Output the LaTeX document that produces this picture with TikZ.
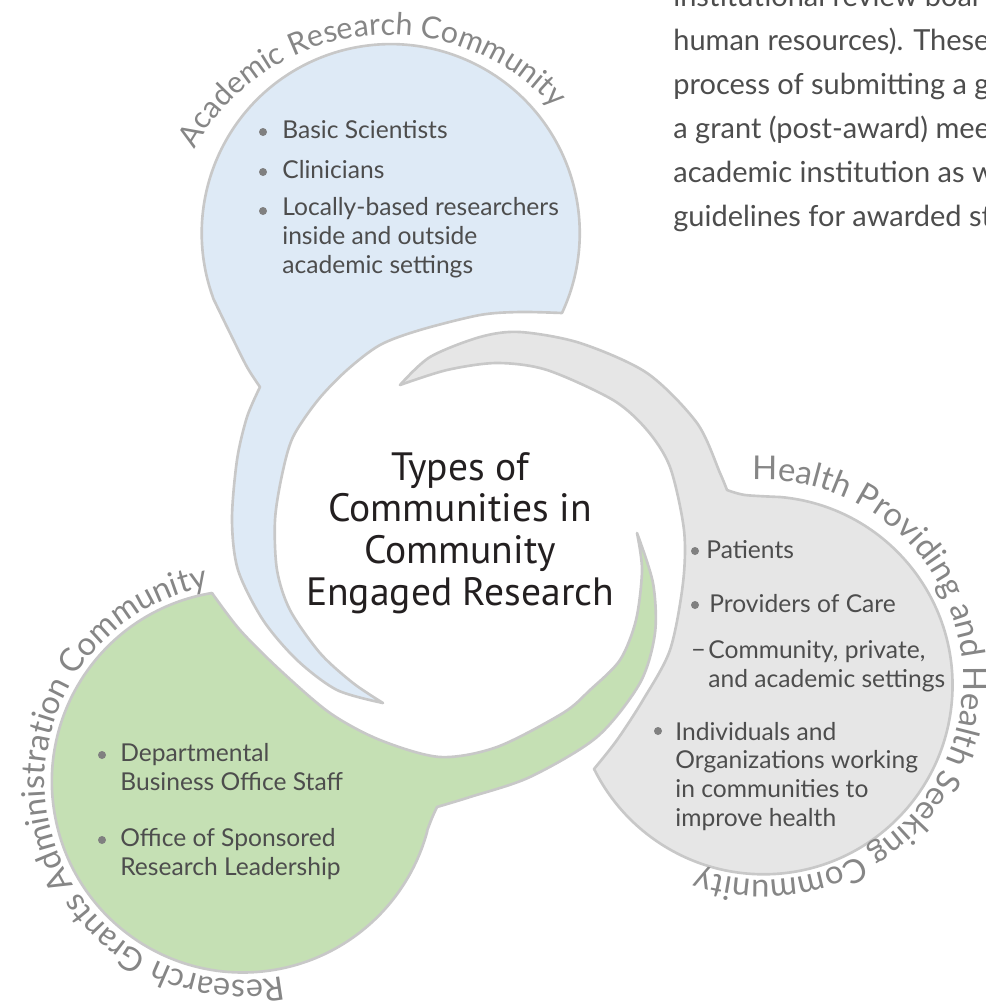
\documentclass[tikz,border=0pt]{standalone}
\usepackage{fontspec}
\setmainfont{Lato}
\newfontfamily\titlefont{PT Sans}
\usetikzlibrary{decorations.text}

\definecolor{blueFill}{HTML}{DEEAF6}
\definecolor{greyFill}{HTML}{E6E6E6}
\definecolor{greenFill}{HTML}{C5E0B4}
\definecolor{edgeGrey}{HTML}{C8C8C8}
\definecolor{textGrey}{HTML}{4D4D4D}
\definecolor{labelGrey}{HTML}{868686}
\definecolor{dotGrey}{HTML}{808080}
\definecolor{titleBlack}{HTML}{231F20}

\begin{document}
\begin{tikzpicture}[x=0.2mm,y=0.2mm,
    swirl/.style={draw=edgeGrey,line width=1.5pt,line join=round},
    item/.style={anchor=base west,inner sep=0pt,align=left,text=textGrey,
        font=\fontsize{14}{16.3}\selectfont},
    dot/.style={fill=dotGrey},
    arclabel/.style 2 args={decorate,decoration={text along path,text align=center,
        text color=labelGrey,text={|\fontsize{#1}{20}\selectfont|#2}}}]
    \useasboundingbox (0,0) rectangle (986,-1001);

    \draw[swirl,fill=blueFill] (562,-313) arc[start angle=-25,end angle=200,radius=189]
        -- plot[smooth] coordinates {(213,-298) (230,-333) (247,-367) (260,-387)}
        -- plot[smooth] coordinates {(260,-387) (247,-417) (237,-460) (232,-520) (238,-570) (263,-620) (297,-660) (337,-690) (383,-703)}
        -- plot[smooth] coordinates {(383,-703) (353,-683) (320,-653) (290,-610) (277,-570) (275,-520) (282,-475) (293,-437) (318,-400) (347,-370) (380,-345) (420,-330) (480,-315) (520,-312) (562,-313)}
        -- cycle;

    \draw[swirl,fill=greyFill] (727,-490)
        -- plot[smooth] coordinates {(727,-490) (745,-495) (780,-497)}
        arc[start angle=85,end angle=-153.6,radius=189]
        -- plot[smooth] coordinates {(594,-769) (617,-740) (643,-700) (670,-650) (683,-583) (684,-530) (670,-467) (647,-430) (613,-400) (547,-370) (497,-363) (447,-370) (400,-385)}
        -- plot[smooth] coordinates {(400,-385) (430,-357) (480,-337) (520,-332) (580,-343) (647,-373) (697,-423) (720,-473) (727,-490)}
        -- cycle;

    \draw[swirl,fill=greenFill] (212,-593) arc[start angle=99.3,end angle=345,radius=191]
        -- plot[smooth] coordinates {(427,-831) (432,-818) (437,-807)}
        -- plot[smooth] coordinates {(437,-807) (470,-797) (530,-777) (597,-737) (640,-683) (655,-633) (653,-583) (637,-533)}
        -- plot[smooth] coordinates {(637,-533) (642,-570) (636,-620) (620,-660) (590,-690) (563,-713) (497,-747) (440,-757) (380,-740) (330,-713) (280,-670) (240,-630) (212,-593)}
        -- cycle;

    \node[anchor=base,align=center,inner sep=0pt,text=titleBlack,
        font=\titlefont\fontsize{22.5}{23.7}\selectfont] (title) at (460,-605)
        {Types of\\Communities in\\Community\\Engaged Research};

    \path[arclabel={17.3}{Academic Research Community}] (389,-258) ++(171.5:223) arc[start angle=171.5,end angle=21.5,radius=223];
    \path[arclabel={18.7}{Health Providing and Health Seeking Community}] (763,-680) ++(107:200) arc[start angle=107,end angle=-123,radius=200];
    \path[arclabel={18.5}{Research Grants Administration Community}] (243,-782) ++(295.75:198) arc[start angle=295.75,end angle=85.75,radius=198];

    \node[item] (ar1) at (282,-138) {Basic Scientists};
    \node[item] (ar2) at (282,-178) {Clinicians};
    \node[item] (ar3) at (282,-273) {Locally-based researchers\\inside and outside\\academic settings};
    \fill[dot] (263,-132) circle (4);
    \fill[dot] (263,-172) circle (4);
    \fill[dot] (263,-211) circle (4);

    \node[item] (hp1) at (706,-558) {Patients};
    \node[item] (hp2) at (709,-612) {Providers of Care};
    \node[item] (hpdash) at (691,-658) {−};
    \node[item] (hp3) at (708,-687) {Community, private,\\and academic settings};
    \node[item] (hp4) at (675,-826) {Individuals and\\Organizations working\\in communities to\\improve health};
    \fill[dot] (695,-551) circle (4);
    \fill[dot] (695,-605) circle (4);
    \fill[dot] (658,-731) circle (4);

    \node[item] (ga1) at (120,-790) {Departmental\\Business Office Staff};
    \node[item] (ga2) at (120,-875) {Office of Sponsored\\Research Leadership};
    \fill[dot] (102,-755) circle (4);
    \fill[dot] (102,-840) circle (4);

    \node[anchor=base west,inner sep=0pt,align=left,text=textGrey,
        font=\fontsize{16.5}{25}\selectfont] (note) at (673,-226)
        {institutional review boar\\human resources). These\\process of submitting a g\\a grant (post-award) mee\\academic institution as w\\guidelines for awarded st};
\end{tikzpicture}
\end{document}
